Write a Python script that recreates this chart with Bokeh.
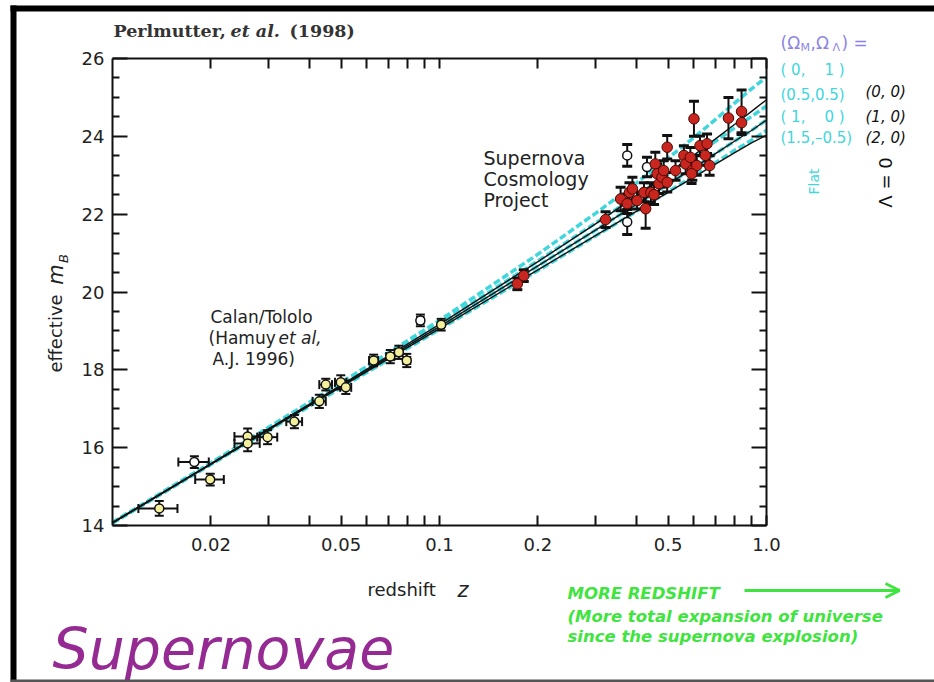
import math
from bokeh.plotting import figure
from bokeh.models import (Range1d, FixedTicker, LogAxis, LinearAxis, Label, BoxAnnotation,
                          Arrow, OpenHead, CustomJSTickFormatter)
from bokeh.embed import file_html
from bokeh.resources import INLINE

# ---------------- data ----------------
# Calan/Tololo (Hamuy et al. 1996) low-redshift supernovae
ct_z = [0.0139, 0.0178, 0.0199, 0.0259, 0.0259, 0.0298, 0.0360, 0.0429, 0.0449,
        0.0499, 0.0517, 0.0629, 0.0707, 0.0751, 0.0794, 0.0874, 0.1012]
ct_m = [14.44, 15.63, 15.18, 16.29, 16.11, 16.27, 16.67, 17.19, 17.62,
        17.68, 17.55, 18.24, 18.34, 18.45, 18.24, 19.27, 19.16]
ct_merr = [0.19, 0.15, 0.15, 0.20, 0.20, 0.18, 0.17, 0.17, 0.15,
           0.18, 0.17, 0.15, 0.17, 0.17, 0.17, 0.15, 0.15]
ct_zerr = [0.0019, 0.0019, 0.0020, 0.0023, 0.0023, 0.0021, 0.0020, 0.0020, 0.0020,
           0.0020, 0.0020, 0.0020, 0.0020, 0.0020, 0.0020, 0.0020, 0.0020]
ct_open = [False, True, False, False, False, False, False, False, False,
           False, False, False, False, False, False, True, False]

# Supernova Cosmology Project, filled (red) points
scp_z = [0.173, 0.181, 0.322, 0.358, 0.375, 0.381, 0.389, 0.402, 0.427, 0.422,
         0.443, 0.453, 0.457, 0.463, 0.469, 0.479, 0.485, 0.497, 0.497, 0.527,
         0.559, 0.566, 0.585, 0.593, 0.600, 0.612, 0.626, 0.658, 0.650, 0.670,
         0.590, 0.765, 0.839, 0.839]
scp_m = [20.21, 20.42, 21.86, 22.39, 22.27, 22.56, 22.65, 22.35, 22.14, 22.56,
         22.56, 22.50, 23.29, 23.04, 22.78, 22.95, 23.12, 22.82, 23.72, 23.12,
         23.51, 23.29, 23.46, 23.12, 24.45, 23.25, 23.76, 23.81, 23.51, 23.25,
         23.04, 24.47, 24.64, 24.35]
scp_err = [0.15, 0.15, 0.20, 0.30, 0.25, 0.25, 0.30, 0.22, 0.50, 0.25,
           0.25, 0.25, 0.30, 0.25, 0.25, 0.25, 0.25, 0.25, 0.30, 0.25,
           0.25, 0.25, 0.25, 0.25, 0.45, 0.25, 0.25, 0.25, 0.25, 0.25,
           0.25, 0.53, 0.55, 0.30]
# SCP open points
scpo_z = [0.375, 0.375, 0.431]
scpo_m = [23.51, 21.80, 23.21]
scpo_err = [0.28, 0.32, 0.25]

# model curves (Omega_M, Omega_Lambda)
model_z = [0.01, 0.02, 0.05, 0.1, 0.2, 0.3, 0.4, 0.5, 0.6, 0.7, 0.8, 0.9, 1.0]
flat_0_1 = [14.08, 15.61, 17.67, 19.27, 20.97, 22.02, 22.80, 23.44, 23.97, 24.44, 24.86, 25.22, 25.52]
flat_05_05 = [14.07, 15.60, 17.62, 19.19, 20.80, 21.77, 22.47, 23.03, 23.48, 23.88, 24.22, 24.51, 24.78]
flat_1_0 = [14.07, 15.58, 17.59, 19.11, 20.67, 21.59, 22.25, 22.77, 23.19, 23.56, 23.88, 24.15, 24.42]
flat_15_m05 = [14.06, 15.57, 17.54, 19.04, 20.55, 21.44, 22.07, 22.58, 22.98, 23.33, 23.64, 23.90, 24.15]
open_0_0 = [14.08, 15.59, 17.61, 19.17, 20.78, 21.75, 22.47, 23.05, 23.52, 23.94, 24.31, 24.64, 24.94]
open_1_0 = flat_1_0
open_2_0 = [14.06, 15.57, 17.56, 19.06, 20.57, 21.45, 22.07, 22.56, 22.95, 23.29, 23.58, 23.83, 24.03]

y_ticks = [14, 16, 18, 20, 22, 24, 26]
y_minor = [14.5, 15, 15.5, 16.5, 17, 17.5, 18.5, 19, 19.5, 20.5, 21, 21.5,
           22.5, 23, 23.5, 24.5, 25, 25.5]
x_ticks = [0.02, 0.05, 0.1, 0.2, 0.5, 1.0]
x_minor = [0.03, 0.04, 0.06, 0.07, 0.08, 0.09, 0.3, 0.4, 0.6, 0.7, 0.8, 0.9]
X_LIM = (0.01, 1.0)
Y_LIM = (14, 26)

# ---------------- geometry (pixels of the axes box) ----------------
W, H = 934, 682
FL, FR, FT, FB = 112, 766, 58, 525


def X(px):
    return 10 ** (math.log10(X_LIM[0]) + (px - FL) * (math.log10(X_LIM[1]) - math.log10(X_LIM[0])) / (FR - FL))


def Y(py):
    return Y_LIM[0] + (FB - py) * (Y_LIM[1] - Y_LIM[0]) / (FB - FT)


# the frame covers the whole canvas; axes are pinned to the box with fixed_location
p = figure(width=W, height=H, x_axis_type="log",
           x_range=Range1d(X(0), X(W)), y_range=Range1d(Y(H), Y(0)),
           output_backend="svg", toolbar_location=None, min_border=0)
p.grid.visible = False
p.outline_line_color = None
p.background_fill_color = "white"
p.border_fill_color = "white"

xfmt = CustomJSTickFormatter(code="return tick > 0.99 ? '1.0' : String(Math.round(tick*100)/100);")

xa = p.xaxis[0]
xa.ticker = FixedTicker(ticks=x_ticks, minor_ticks=x_minor)
xa.formatter = xfmt
xa.fixed_location = Y_LIM[0]
xt = LogAxis(ticker=FixedTicker(ticks=x_ticks, minor_ticks=x_minor), major_label_text_alpha=0,
             fixed_location=Y_LIM[1])
p.add_layout(xt, "above")
for ax in (xa, xt):
    ax.bounds = X_LIM
    ax.axis_line_width = 2
    ax.axis_line_color = "#111111"
    ax.major_tick_in = 10
    ax.major_tick_out = 0
    ax.minor_tick_in = 10
    ax.minor_tick_out = 0
    ax.major_tick_line_width = 2
    ax.minor_tick_line_width = 2
    ax.major_tick_line_color = "#111111"
    ax.minor_tick_line_color = "#111111"
    ax.major_label_text_font = "DejaVu Sans"
    ax.major_label_text_font_size = "18px"
    ax.major_label_text_color = "#222222"
xa.major_label_standoff = 12

ya = p.yaxis[0]
ya.ticker = FixedTicker(ticks=y_ticks, minor_ticks=y_minor)
ya.fixed_location = X_LIM[0]
yr = LinearAxis(ticker=FixedTicker(ticks=y_ticks, minor_ticks=y_minor), major_label_text_alpha=0,
                fixed_location=X_LIM[1])
p.add_layout(yr, "right")
for ax in (ya, yr):
    ax.bounds = Y_LIM
    ax.axis_line_width = 2
    ax.axis_line_color = "#111111"
    ax.major_tick_in = 15
    ax.major_tick_out = 0
    ax.minor_tick_in = 7
    ax.minor_tick_out = 0
    ax.major_tick_line_width = 2
    ax.minor_tick_line_width = 2
    ax.major_tick_line_color = "#111111"
    ax.minor_tick_line_color = "#111111"
    ax.major_label_text_font = "DejaVu Sans"
    ax.major_label_text_font_size = "18px"
    ax.major_label_text_color = "#222222"
ya.major_label_standoff = 8

# ---------------- model curves ----------------
CYAN = "#3fd6dc"
for ys in (flat_0_1, flat_05_05, flat_1_0, flat_15_m05):
    p.line(model_z, ys, line_color=CYAN, line_width=3.5, line_dash="7 3")
for ys in (open_0_0, open_1_0, open_2_0):
    p.line(model_z, ys, line_color="#111111", line_width=1.4)

# ---------------- error bars ----------------
ERR = "#111111"
ct_lo = [m - e for m, e in zip(ct_m, ct_merr)]
ct_hi = [m + e for m, e in zip(ct_m, ct_merr)]
ct_zl = [z - e for z, e in zip(ct_z, ct_zerr)]
ct_zh = [z + e for z, e in zip(ct_z, ct_zerr)]
p.segment(ct_z, ct_lo, ct_z, ct_hi, line_color=ERR, line_width=2)
p.segment(ct_zl, ct_m, ct_zh, ct_m, line_color=ERR, line_width=2)
p.scatter(ct_z + ct_z, ct_lo + ct_hi, marker="dash", size=9, line_color=ERR, line_width=2)
p.scatter(ct_zl + ct_zh, ct_m + ct_m, marker="dash", angle=math.pi / 2, size=9,
          line_color=ERR, line_width=2)

all_z = scp_z + scpo_z
all_m = scp_m + scpo_m
all_e = scp_err + scpo_err
lo = [m - e for m, e in zip(all_m, all_e)]
hi = [m + e for m, e in zip(all_m, all_e)]
p.segment(all_z, lo, all_z, hi, line_color=ERR, line_width=2)
p.scatter(all_z + all_z, lo + hi, marker="dash", size=10, line_color=ERR, line_width=3)

# ---------------- markers ----------------
ct_fill = ["white" if o else "#f4ef9a" for o in ct_open]
p.scatter(ct_z, ct_m, marker="circle", size=9, fill_color=ct_fill, line_color="#111111", line_width=1.5)
p.scatter(scpo_z, scpo_m, marker="circle", size=9, fill_color="white", line_color="#111111", line_width=1.5)
p.scatter(scp_z, scp_m, marker="circle", size=10.5, fill_color="#c8261e", line_color="#4a0a06", line_width=1)


# ---------------- text ----------------
def label(px, py, text, size=17, color="#222222", font="DejaVu Sans", style="normal",
          align="left", baseline="middle", angle=0.0):
    p.add_layout(Label(x=X(px), y=Y(py), text=text, text_font=font, text_font_size=f"{size}px",
                       text_color=color, text_font_style=style, text_align=align,
                       text_baseline=baseline, angle=angle))


NB = "\u00a0"

# title
label(113, 30, "Perlmutter,", size=17.5, font="DejaVu Serif", style="bold", color="#333333")
label(230, 30, "et al.", size=17.5, font="DejaVu Serif", style="bold italic", color="#333333")
label(289, 30, "(1998)", size=17.5, font="DejaVu Serif", style="bold", color="#333333")

# axis titles
label(55, 333, "effective", size=18, align="center", angle=math.pi / 2)
label(55, 274, "m", size=21, style="italic", align="center", angle=math.pi / 2)
label(63, 258, "B", size=13, style="italic", align="center", angle=math.pi / 2)
label(367, 589, "redshift", size=18)
label(457, 589, "z", size=21, style="italic")

# annotations
label(210, 316, "Calan/Tololo", size=17)
label(208, 337, "(Hamuy", size=17)
label(278, 337, "et al,", size=17, style="italic")
label(212, 358, "A.J. 1996)", size=17)
label(483, 157, "Supernova", size=19)
label(483, 178, "Cosmology", size=19)
label(483, 199, "Project", size=19)

# model legend
LAV = "#8c84e4"
label(780, 42, "(Ω", size=17, color=LAV)
label(800, 47, "M", size=11, color=LAV)
label(810, 42, ",Ω", size=17, color=LAV)
label(832, 47, "Λ", size=11, color=LAV)
label(841, 42, ")" + NB + "=", size=17, color=LAV)
label(780, 69, "(" + NB + "0," + NB * 4 + "1" + NB + ")", size=15, color=CYAN)
label(780, 94, "(0.5,0.5)", size=15, color=CYAN)
label(780, 116, "(" + NB + "1," + NB * 4 + "0" + NB + ")", size=15, color=CYAN)
label(780, 137, "(1.5,–0.5)", size=15, color=CYAN)
label(865, 91, "(0, 0)", size=15, style="italic", color="#111111")
label(865, 116, "(1, 0)", size=15, style="italic", color="#111111")
label(865, 137, "(2, 0)", size=15, style="italic", color="#111111")
label(813, 181, "Flat", size=14, color=CYAN, align="center", angle=math.pi / 2)
label(885, 182, "Λ" + NB + "=" + NB + "0", size=18, color="#111111", align="center", angle=math.pi / 2)

# green note
GREEN = "#3fe43f"
label(567, 593, "MORE REDSHIFT", size=16.5, color=GREEN, font="DejaVu Sans", style="bold italic")
label(567, 616, "(More total expansion of universe", size=16.5, color=GREEN,
      font="DejaVu Sans", style="bold italic")
label(567, 636, "since the supernova explosion)", size=16.5, color=GREEN,
      font="DejaVu Sans", style="bold italic")
p.add_layout(Arrow(x_start=X(744), y_start=Y(590), x_end=X(899), y_end=Y(590),
                   line_color=GREEN, line_width=3,
                   end=OpenHead(size=14, line_color=GREEN, line_width=3)))

# big title
label(52, 648, "Supernovae", size=57, color="#952a93", style="italic", baseline="alphabetic")

# page frame bars
p.add_layout(BoxAnnotation(left=X(10), right=X(16), bottom=Y(681), top=Y(5),
                           fill_color="black", fill_alpha=1, line_color=None))
p.add_layout(BoxAnnotation(left=X(10), right=X(934), bottom=Y(11), top=Y(5),
                           fill_color="black", fill_alpha=1, line_color=None))
p.add_layout(BoxAnnotation(left=X(10), right=X(934), bottom=Y(682), top=Y(679),
                           fill_color="#555555", fill_alpha=1, line_color=None))

open("out.html", "w").write(file_html(p, INLINE))
